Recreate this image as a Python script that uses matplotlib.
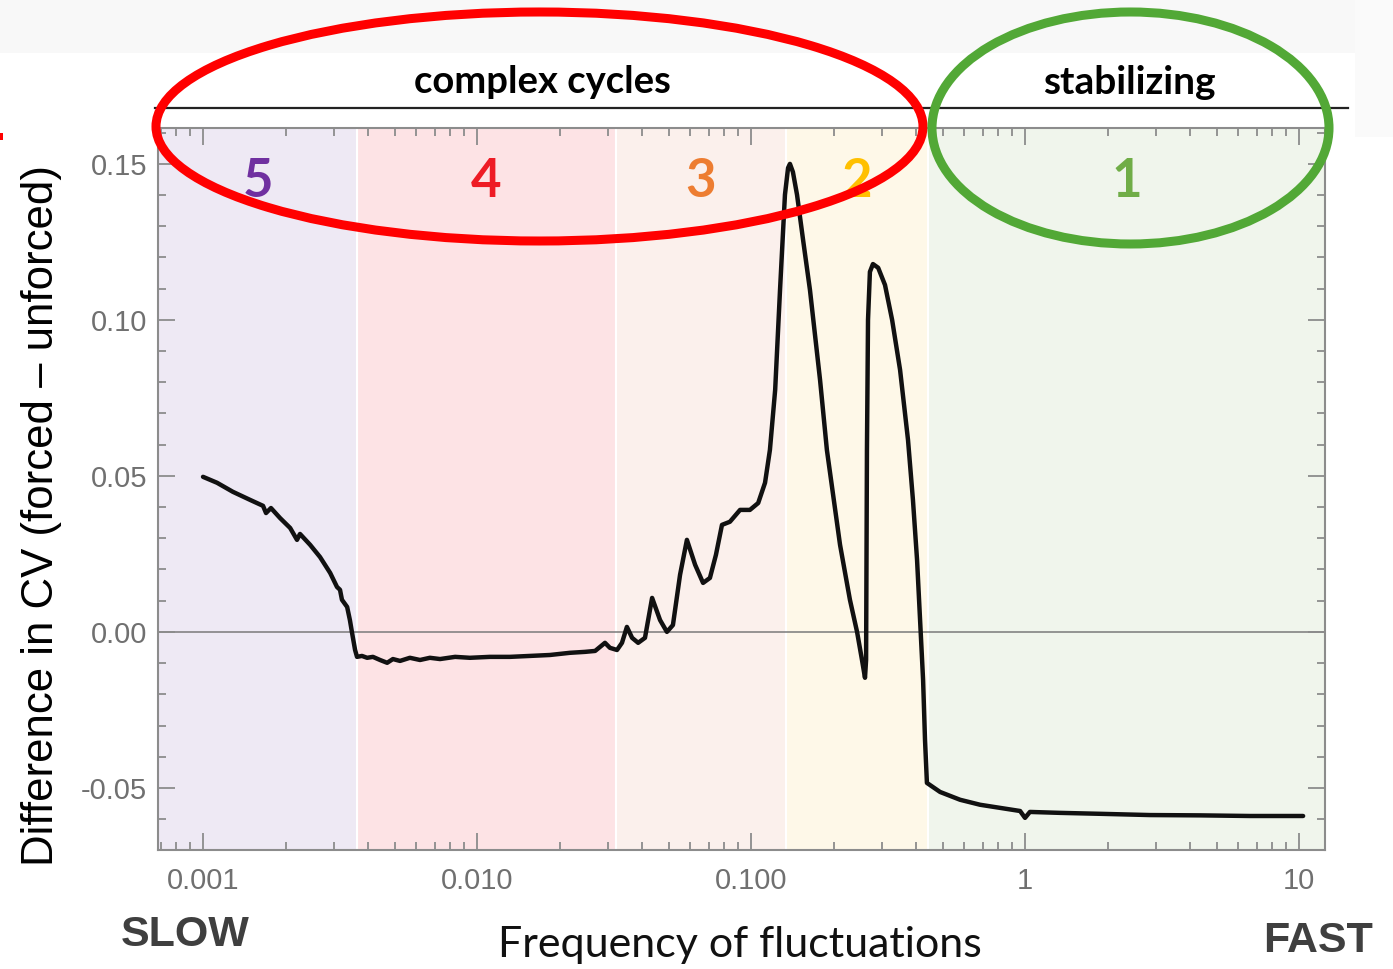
import matplotlib
matplotlib.use("Agg")
import matplotlib.pyplot as plt
from matplotlib.patches import Ellipse, Rectangle
from matplotlib.lines import Line2D
from matplotlib.ticker import FixedLocator, NullFormatter

# frequency (log axis) and CV difference, forced minus unforced
freq = [
    0.001000, 0.001125, 0.001285, 0.001486, 0.001656, 0.001698, 0.001770,
    0.001910, 0.002080, 0.002203, 0.002259, 0.002460, 0.002673, 0.002911,
    0.003083, 0.003162, 0.003214, 0.003357, 0.003436, 0.003499, 0.003589,
    0.003648, 0.003802, 0.003972, 0.004169, 0.004426, 0.004699, 0.004932,
    0.005236, 0.005689, 0.006194, 0.006730, 0.007328, 0.008318, 0.009419,
    0.01114, 0.01318, 0.01560, 0.01845, 0.02183, 0.02477, 0.02698, 0.02931,
    0.03055, 0.03243, 0.03381, 0.03524, 0.03681, 0.03873, 0.04102, 0.04355,
    0.04656, 0.04932, 0.05188, 0.05508, 0.05835, 0.06252, 0.06683, 0.07080,
    0.07447, 0.07834, 0.08375, 0.09120, 0.09908, 0.1062, 0.1125, 0.1172,
    0.1225, 0.1276, 0.1330, 0.1365, 0.1387, 0.1422, 0.1472, 0.1549, 0.1641,
    0.1786, 0.1892, 0.2113, 0.2296, 0.2438, 0.2541, 0.2606, 0.2630, 0.2649,
    0.2673, 0.2716, 0.2786, 0.2911, 0.3083, 0.3273, 0.3499, 0.3741, 0.3899,
    0.4036, 0.4140, 0.4246, 0.4315, 0.4385, 0.4898, 0.5794, 0.6855, 0.8110,
    0.9594, 1.000, 1.042, 1.343, 1.879, 2.858, 4.355, 6.622, 10.35,
]
cv_diff = [
    0.0497, 0.0478, 0.0449, 0.0423, 0.0404, 0.0381, 0.0397,
    0.0365, 0.0333, 0.0295, 0.0314, 0.0279, 0.0240, 0.0189,
    0.0144, 0.0135, 0.0103, 0.0080, 0.0038, -0.0003, -0.0058,
    -0.0080, -0.0077, -0.0083, -0.0080, -0.0090, -0.0099, -0.0087,
    -0.0093, -0.0083, -0.0090, -0.0083, -0.0087, -0.0080, -0.0083,
    -0.0080, -0.0080, -0.0077, -0.0074, -0.0067, -0.0064, -0.0061, -0.0035,
    -0.0051, -0.0058, -0.0035, 0.0016, -0.0019, -0.0035, -0.0019, 0.0109,
    0.0038, 0.0000, 0.0022, 0.0183, 0.0295, 0.0215, 0.0157, 0.0173,
    0.0247, 0.0343, 0.0353, 0.0391, 0.0391, 0.0413, 0.0478, 0.0583,
    0.0776, 0.1096, 0.1401, 0.1487, 0.1500, 0.1474, 0.1401, 0.1256, 0.1096,
    0.0808, 0.0583, 0.0279, 0.0103, 0.0000, -0.0090, -0.0147, -0.0090, 0.0583,
    0.1000, 0.1154, 0.1179, 0.1167, 0.1112, 0.1000, 0.0840, 0.0615, 0.0423,
    0.0231, 0.0038, -0.0154, -0.0346, -0.0484, -0.0513, -0.0538, -0.0554, -0.0564,
    -0.0574, -0.0596, -0.0577, -0.0580, -0.0583, -0.0587, -0.0588, -0.0590, -0.0590,
]

# dynamical regimes along the frequency axis
region_edges = [0.000685, 0.00365, 0.0321, 0.134, 0.443, 12.44]
region_names = ["5", "4", "3", "2", "1"]
region_fill = ["#EEE9F4", "#FDE3E5", "#FBF0EC", "#FEF8E8", "#F0F5EC"]
region_text = ["#7030A0", "#EE1C25", "#ED7D31", "#FFC000", "#70AD47"]

xtick_vals = [0.001, 0.01, 0.1, 1, 10]
xtick_labels = ["0.001", "0.010", "0.100", "1", "10"]
ytick_vals = [-0.05, 0.0, 0.05, 0.10, 0.15]
ytick_labels = ["-0.05", "0.00", "0.05", "0.10", "0.15"]

W, H = 1393, 969
fig = plt.figure(figsize=(W / 100, H / 100), dpi=100)
fig.patch.set_facecolor("white")


def fx(px):
    return px / W


def fy(py):
    return 1 - py / H


# light grey slide background peeking out at the top
fig.add_artist(Rectangle((0, fy(53)), 1, 53 / H, transform=fig.transFigure,
                         facecolor="#F8F8F8", edgecolor="none", zorder=0))
fig.add_artist(Rectangle((fx(1355), fy(137)), 38 / W, 137 / H, transform=fig.transFigure,
                         facecolor="#FAFAFA", edgecolor="none", zorder=0))
fig.add_artist(Rectangle((0, fy(140)), 3 / W, 7 / H, transform=fig.transFigure,
                         facecolor="#FF0000", edgecolor="none", zorder=1))

ax = fig.add_axes([fx(158), fy(850), (1325 - 158) / W, (850 - 128) / H])
ax.set_xscale("log")
ax.set_xlim(region_edges[0], region_edges[-1])
ax.set_ylim(-0.0699, 0.1615)

tick_font = ["Liberation Sans Narrow", "Liberation Sans", "DejaVu Sans"]
grey = "#8C8C8C"

for i, name in enumerate(region_names):
    lo, hi = region_edges[i], region_edges[i + 1]
    ax.axvspan(lo, hi, color=region_fill[i], lw=0, zorder=0)
    if i > 0:
        ax.axvline(lo, color="white", lw=1.5, zorder=0.5)
    ax.text((lo * hi) ** 0.5, 0.1445, name, ha="center", va="center",
            fontsize=38, fontweight="bold", color=region_text[i],
            family=["Lato", "DejaVu Sans"], zorder=1)

ax.axhline(0, color="#7A7A7A", lw=1.1, zorder=1)
ax.plot(freq, cv_diff, color="#111111", lw=3.2, solid_joinstyle="round",
        solid_capstyle="round", zorder=3)

for side in ax.spines.values():
    side.set_color(grey)
    side.set_linewidth(1.5)

ax.set_xticks(xtick_vals)
ax.set_xticklabels(xtick_labels)
minor_x = [m * 10.0 ** e for e in range(-4, 2) for m in range(2, 10)]
ax.xaxis.set_minor_locator(FixedLocator(minor_x))
ax.xaxis.set_minor_formatter(NullFormatter())
ax.set_yticks(ytick_vals)
ax.set_yticklabels(ytick_labels)
ax.yaxis.set_minor_locator(FixedLocator([v / 100 for v in range(-7, 17)]))

ax.tick_params(which="both", direction="in", top=True, right=True, color=grey, width=1.3)
ax.tick_params(which="major", length=12)
ax.tick_params(which="minor", length=6)
ax.tick_params(axis="x", which="major", pad=12, labelsize=21, labelcolor="#707070")
ax.tick_params(axis="y", which="major", pad=8, labelsize=21, labelcolor="#707070")
for lab in ax.get_xticklabels() + ax.get_yticklabels():
    lab.set_family(tick_font)

# axis titles and slow/fast ends
fig.text(fx(42), fy(515), "Difference in CV (forced \u2013 unforced)", rotation=90,
         ha="center", va="center", fontsize=31.5, color="black",
         family=["Liberation Sans", "DejaVu Sans"])
fig.text(fx(740), fy(945), "Frequency of fluctuations", ha="center", va="center",
         fontsize=31, color="#111111", family=["Lato", "DejaVu Sans"])
fig.text(fx(185), fy(935), "SLOW", ha="center", va="center", fontsize=31,
         fontweight="bold", color="#3F3F3F", family=tick_font)
fig.text(fx(1318), fy(941), "FAST", ha="center", va="center", fontsize=31,
         fontweight="bold", color="#3F3F3F", family=tick_font)

# regime bracket above the panel
fig.add_artist(Line2D([fx(155), fx(1348)], [fy(108), fy(108)], transform=fig.transFigure,
                      color="#222222", lw=1.6))
fig.text(fx(542), fy(82), "complex cycles", ha="center", va="center", fontsize=27.5,
         fontweight="bold", color="black", family=["Lato", "DejaVu Sans"])
fig.text(fx(1129), fy(82), "stabilizing", ha="center", va="center", fontsize=28,
         fontweight="bold", color="black", family=["Lato", "DejaVu Sans"])

fig.add_artist(Ellipse((fx(539.5), fy(126.5)), 767 / W, 229 / H, transform=fig.transFigure,
                       fill=False, edgecolor="#FF0000", lw=6.5, zorder=10))
fig.add_artist(Ellipse((fx(1130.5), fy(128)), 397 / W, 232 / H, transform=fig.transFigure,
                       fill=False, edgecolor="#52A836", lw=6.5, zorder=10))

fig.savefig("out.png", dpi=100, facecolor=fig.get_facecolor())
